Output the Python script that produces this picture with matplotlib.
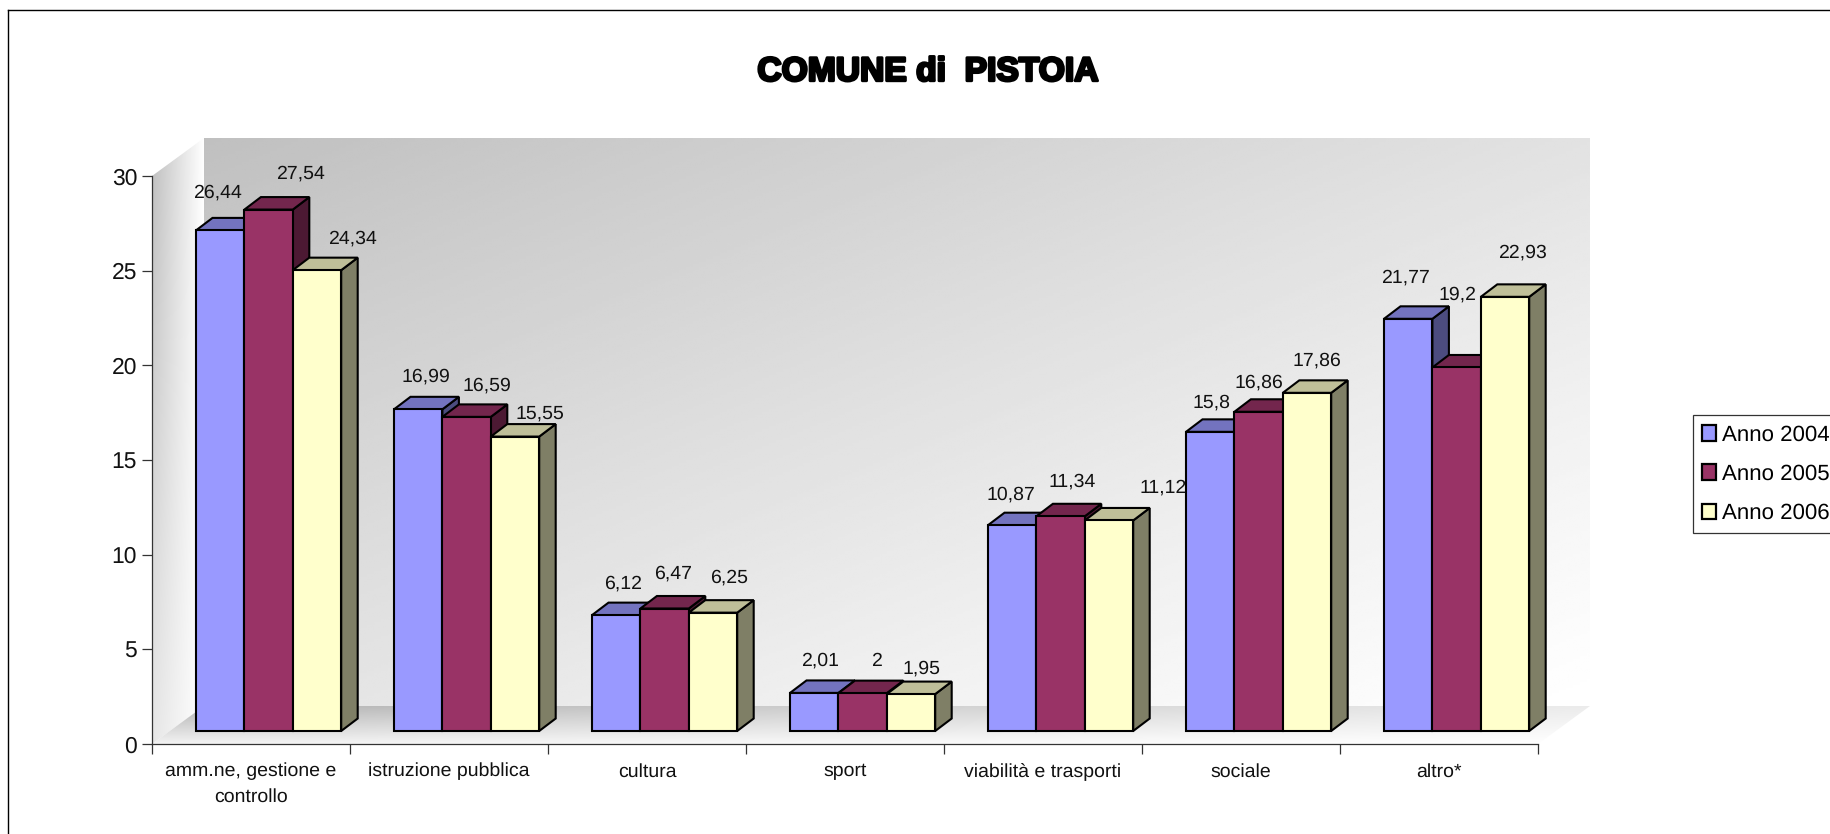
import matplotlib
matplotlib.use("Agg")
import matplotlib.pyplot as plt
import matplotlib.patheffects as pe
from matplotlib.lines import Line2D
from matplotlib.patches import Patch, Polygon
import numpy as np

plt.rcParams['font.family'] = ['Liberation Sans', 'DejaVu Sans']
plt.rcParams['text.hinting'] = 'none'

W, H = 1831, 834

categories = ["amm.ne, gestione e\ncontrollo", "istruzione pubblica", "cultura", "sport",
              "viabilità e trasporti", "sociale", "altro*"]
years = ["Anno 2004", "Anno 2005", "Anno 2006"]
anno_2004 = [26.44, 16.99, 6.12, 2.01, 10.87, 15.8, 21.77]
anno_2005 = [27.54, 16.59, 6.47, 2, 11.34, 16.86, 19.2]
anno_2006 = [24.34, 15.55, 6.25, 1.95, 11.12, 17.86, 22.93]
series = [anno_2004, anno_2005, anno_2006]

# front, top and side colour of each series
front_colors = ["#9999FF", "#993366", "#FFFFCC"]
top_colors = ["#7373BF", "#73264D", "#BFBF99"]
side_colors = ["#4C4C7F", "#4C1933", "#7F7F66"]

# data labels were moved by hand in the original, so centres are in pixels
label_x = [[217, 300, 352], [426, 487, 540], [623, 673, 729], [820, 876, 921],
           [1011, 1072, 1163], [1211, 1259, 1317], [1405, 1457, 1522]]
label_y = [[193, 174, 239], [377, 386, 414], [584, 574, 578], [661, 661, 669],
           [495, 482, 488], [403, 383, 361], [278, 295, 253]]

# ------------------------- Layout -------------------------
ax_left, ax_right, ax_top, ax_bottom = 152, 1538, 176, 744
px_x = (ax_right - ax_left) / 7
px_y = (ax_bottom - ax_top) / 30

wall_dx = 52 / px_x
wall_dy = 38 / px_y
bar_dx = 16.5 / px_x
bar_dy = 12.5 / px_y
bar_w = 48.4 / px_x
bar_start = 44 / px_x
bar_base = 13 / px_y


def fig_xy(x, y):
    return x / W, 1 - y / H


fig = plt.figure(figsize=(W / 100, H / 100), dpi=100)
ax = fig.add_axes([ax_left / W, 1 - ax_bottom / H, (ax_right - ax_left) / W, (ax_bottom - ax_top) / H])
ax.patch.set_visible(False)


def shaded(corners, shade, extent):
    # gradient image clipped to one wall of the box
    im = ax.imshow(shade, cmap="gray", vmin=0, vmax=255, extent=extent, origin="lower",
                   aspect="auto", interpolation="bilinear", zorder=1)
    clip = Polygon(corners, closed=True, transform=ax.transData, fill=False, edgecolor="none")
    im.set_clip_box(fig.bbox)
    im.set_clip_path(clip)


# ------------------------- Walls -------------------------
u, v = np.meshgrid(np.linspace(0, 1, 200), np.linspace(0, 1, 200))

back = 255 - 63 * (0.5 * (1 - u) + 0.5 * v) ** 1.12
shaded([(wall_dx, wall_dy), (7 + wall_dx, wall_dy), (7 + wall_dx, 30 + wall_dy), (wall_dx, 30 + wall_dy)],
       back, (wall_dx, 7 + wall_dx, wall_dy, 30 + wall_dy))

left = 255 - (1 - u) * (25 + 40 * v)
shaded([(0, 0), (wall_dx, wall_dy), (wall_dx, 30 + wall_dy), (0, 30)],
       left, (0, wall_dx, 0, 30 + wall_dy))

floor = 255 - (20 + 45 * (1 - u)) * v - 12 * (1 - u)
shaded([(0, 0), (7, 0), (7 + wall_dx, wall_dy), (wall_dx, wall_dy)],
       floor, (0, 7 + wall_dx, 0, wall_dy))

# ------------------------- Bars -------------------------
for i in range(len(categories)):
    for s, values in enumerate(series):
        x0 = i + bar_start + s * bar_w
        x1 = x0 + bar_w
        y0 = bar_base
        y1 = bar_base + values[i]
        z = 3 + i * 3 + s
        style = dict(edgecolor="black", linewidth=1.5, joinstyle="miter", clip_on=False, zorder=z)
        ax.add_patch(Polygon([(x1, y0), (x1 + bar_dx, y0 + bar_dy), (x1 + bar_dx, y1 + bar_dy), (x1, y1)],
                             facecolor=side_colors[s], **style))
        ax.add_patch(Polygon([(x0, y1), (x1, y1), (x1 + bar_dx, y1 + bar_dy), (x0 + bar_dx, y1 + bar_dy)],
                             facecolor=top_colors[s], **style))
        ax.add_patch(Polygon([(x0, y0), (x1, y0), (x1, y1), (x0, y1)],
                             facecolor=front_colors[s], **style))
        lx, ly = fig_xy(label_x[i][s], label_y[i][s])
        fig.text(lx, ly, str(values[i]).replace(".", ","), ha="center", va="center",
                 fontsize=14, color="#111111", zorder=50)

# ------------------------- Axes -------------------------
ax.set_xlim(0, 7)
ax.set_ylim(0, 30)
for side in ["top", "right"]:
    ax.spines[side].set_visible(False)
for side in ["left", "bottom"]:
    ax.spines[side].set_color("#333333")
    ax.spines[side].set_linewidth(0.9)
    ax.spines[side].set_zorder(2)

ax.set_yticks(range(0, 31, 5))
ax.tick_params(axis="y", labelsize=16.5, length=7.2, width=0.9, color="#333333", pad=3.5, labelcolor="#111111")
ax.set_xticks(range(8))
ax.set_xticklabels([])
ax.tick_params(axis="x", which="major", length=7.2, width=0.9, color="#333333")
ax.set_xticks(np.arange(len(categories)) + 0.5, labels=categories, minor=True)
ax.tick_params(axis="x", which="minor", length=0, labelsize=14, pad=13.5, labelcolor="#111111")
for t in ax.get_xticklabels(minor=True):
    t.set_linespacing(1.52)

# ------------------------- Title, legend, border -------------------------
tx, ty = fig_xy(928, 72)
fig.text(tx, ty, "COMUNE di  PISTOIA", ha="center", va="center", fontsize=24.2, fontweight="bold",
         color="black", path_effects=[pe.withStroke(linewidth=2, foreground="black")])

handles = [Patch(facecolor=front_colors[s], edgecolor="black", linewidth=1.6, label=years[s]) for s in range(3)]
leg = ax.legend(handles=handles, loc="upper left", bbox_to_anchor=fig_xy(1692.7, 415),
                bbox_transform=fig.transFigure, borderaxespad=0, fontsize=16,
                handlelength=0.62, handleheight=0.68, handletextpad=0.24, labelspacing=0.84, borderpad=0.44,
                fancybox=False, framealpha=1, edgecolor="#333333")
leg.get_frame().set_linewidth(0.9)
leg.set_zorder(60)

fig.add_artist(Line2D([7.5 / W, 7.5 / W], [0, 1 - 9.5 / H], color="black", linewidth=1))
fig.add_artist(Line2D([7.5 / W, 1], [1 - 9.5 / H, 1 - 9.5 / H], color="black", linewidth=1))

fig.savefig("out.png", dpi=100)
